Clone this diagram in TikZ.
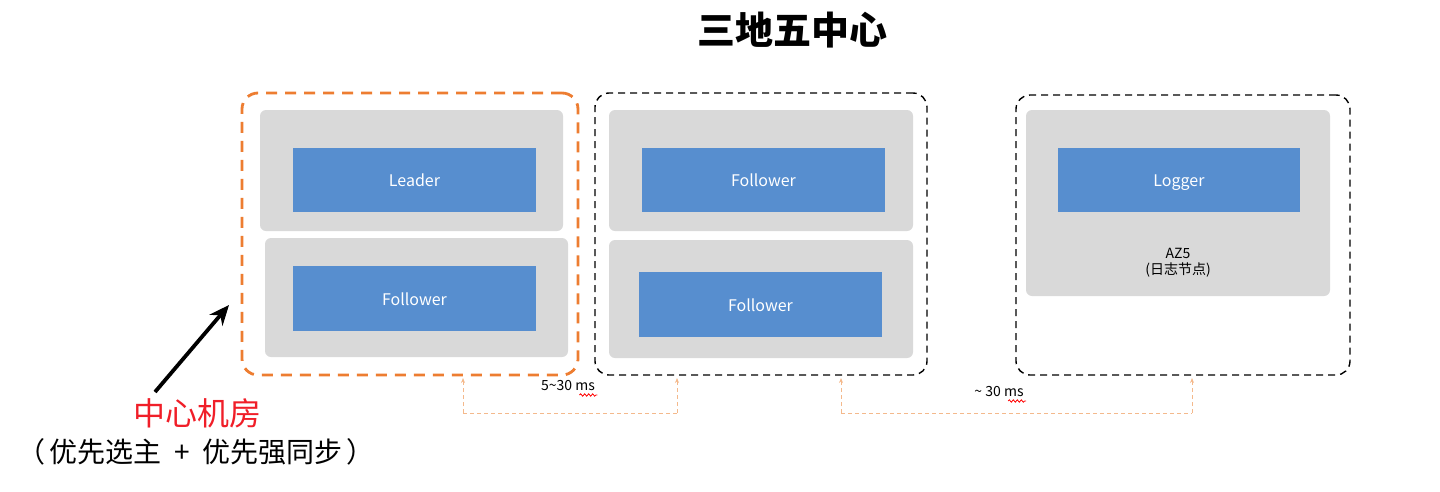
\documentclass[tikz,border=0pt]{standalone}
\usepackage{fontspec}
\setmainfont{Noto Sans CJK SC}
\usetikzlibrary{arrows.meta,decorations.pathmorphing}
\definecolor{az_orange}{RGB}{237, 125, 49}
\definecolor{az_peach}{RGB}{244, 185, 140}
\definecolor{az_gray}{RGB}{217, 217, 217}
\definecolor{az_blue}{RGB}{87, 142, 207}
\definecolor{az_red}{RGB}{240, 30, 40}
\tikzstyle{az}=[draw=black,line width=1.4pt,dash pattern=on 7pt off 5pt,
  rounded corners=14pt,inner sep=0pt]
\tikzstyle{caz}=[draw=az_orange,line width=2.8pt,dash pattern=on 11pt off 8pt,
  rounded corners=16pt,inner sep=0pt]
\tikzstyle{gb}=[fill=az_gray,rounded corners=6pt,inner sep=0pt]
\tikzstyle{bn}=[fill=az_blue,text=white,inner sep=0pt,text height=14pt,
  text depth=1pt,font=\fontsize{16}{19}\selectfont]
\tikzstyle{lat}=[draw=az_peach,line width=0.9pt,dash pattern=on 4pt off 3pt]
\tikzstyle{none}=[]

\begin{document}
\begin{tikzpicture}[x=1pt, y=-1pt]
  \useasboundingbox (0, 0) rectangle (1440, 491);
  \node [style=none, font=\fontsize{38}{40}\selectfont\bfseries] (0) at (792, 30) {三地五中心};
  \node [style=caz, minimum width=336, minimum height=282] (1) at (410, 234) {};
  \node [style=az, minimum width=332, minimum height=282] (2) at (761, 234) {};
  \node [style=az, minimum width=334, minimum height=280] (3) at (1183, 235) {};
  \node [style=gb, minimum width=303, minimum height=121] (4) at (411.5, 170.5) {};
  \node [style=gb, minimum width=303, minimum height=119] (5) at (416.5, 297.5) {};
  \node [style=gb, minimum width=304, minimum height=121] (6) at (761, 170.5) {};
  \node [style=gb, minimum width=304, minimum height=118] (7) at (761, 299) {};
  \node [style=gb, minimum width=304, minimum height=186] (8) at (1178, 203) {};
  \node [style=bn, minimum width=243, minimum height=64] (9) at (414.5, 180) {Leader};
  \node [style=bn, minimum width=243, minimum height=65] (10) at (414.5, 298.5) {Follower};
  \node [style=bn, minimum width=243, minimum height=64] (11) at (763.5, 180) {Follower};
  \node [style=bn, minimum width=243, minimum height=65] (12) at (760.5, 304.5) {Follower};
  \node [style=bn, minimum width=242, minimum height=64] (13) at (1179, 180) {Logger};
  \node [style=none, align=center, font=\fontsize{14}{16}\selectfont] (14) at (1178, 263) {AZ5\\(日志节点)};
  \node [style=none] (15) at (463, 413) {};
  \node [style=none] (16) at (463, 378) {};
  \node [style=none] (17) at (677, 413) {};
  \node [style=none] (18) at (677, 378) {};
  \node [style=none] (19) at (841, 413) {};
  \node [style=none] (20) at (841, 378) {};
  \node [style=none] (21) at (1192, 413) {};
  \node [style=none] (22) at (1192, 378) {};
  \node [style=none, font=\fontsize{14}{16}\selectfont] (23) at (568, 385) {5\textasciitilde30 ms};
  \node [style=none, font=\fontsize{14}{16}\selectfont] (24) at (999, 391) {\textasciitilde\ 30 ms};
  \node [style=none] (25) at (155, 392) {};
  \node [style=none] (26) at (229, 305) {};
  \node [style=none, text=az_red, font=\fontsize{32}{34}\selectfont] (27) at (197, 413) {中心机房};
  \node [style=none, font=\fontsize{28}{30}\selectfont] (28) at (196, 452) {（\hspace{0.15em}优先选主\hspace{0.45em}+\hspace{0.45em}优先强同步\hspace{0.15em}）};
  \draw [style=lat, -{Stealth[length=5pt,width=4pt]}] (15.center) to (16.center);
  \draw [style=lat] (15.center) to (17.center);
  \draw [style=lat, -{Stealth[length=5pt,width=4pt]}] (17.center) to (18.center);
  \draw [style=lat, -{Stealth[length=5pt,width=4pt]}] (19.center) to (20.center);
  \draw [style=lat] (19.center) to (21.center);
  \draw [style=lat, -{Stealth[length=5pt,width=4pt]}] (21.center) to (22.center);
  \draw [red, line width=0.8pt, decorate, decoration={snake, amplitude=1.2pt, segment length=4pt}]
    ([xshift=-19pt, yshift=-10pt]23.east) to ([xshift=-1pt, yshift=-10pt]23.east);
  \draw [red, line width=0.8pt, decorate, decoration={snake, amplitude=1.2pt, segment length=4pt}]
    ([xshift=-19pt, yshift=-10pt]24.east) to ([xshift=-1pt, yshift=-10pt]24.east);
  \draw [line width=3.8pt, -{Stealth[length=20pt,width=17pt]}] (25.center) to (26.center);
\end{tikzpicture}
\end{document}
